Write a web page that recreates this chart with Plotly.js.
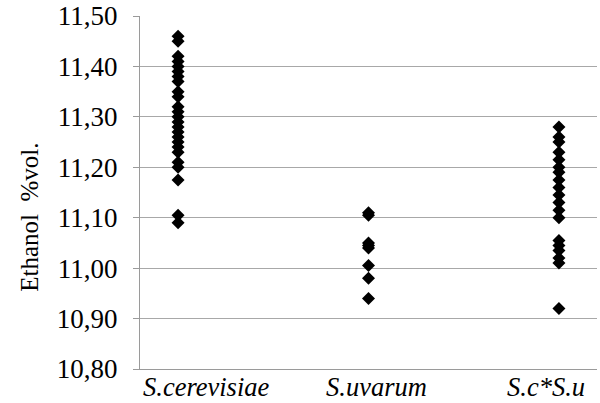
<!DOCTYPE html>
<html>
<head>
<meta charset="utf-8">
<script src="https://cdn.plot.ly/plotly-3.0.1.min.js"></script>
<style>html,body{margin:0;padding:0;background:#fff;}#chart{width:600px;height:403px;}</style>
</head>
<body>
<div id="chart"></div>
<script>
const categories = ["S.cerevisiae", "S.uvarum", "S.c*S.u"];
const cerevisiae = [11.46, 11.45, 11.42, 11.41, 11.40, 11.39, 11.38, 11.37, 11.35, 11.34, 11.32, 11.31, 11.30, 11.29, 11.28, 11.27, 11.26, 11.25, 11.24, 11.23, 11.21, 11.20, 11.175, 11.105, 11.09];
const uvarum = [11.11, 11.105, 11.05, 11.045, 11.04, 11.005, 10.98, 10.94];
const hybrid = [11.28, 11.26, 11.25, 11.23, 11.215, 11.20, 11.19, 11.175, 11.16, 11.145, 11.13, 11.115, 11.10, 11.055, 11.045, 11.035, 11.02, 11.01, 10.92];
const yTicks = [10.80, 10.90, 11.00, 11.10, 11.20, 11.30, 11.40, 11.50];
const labelOffsets = [0.15, 1.04, 1.93];

const series = [cerevisiae, uvarum, hybrid];
const xs = [], ys = [];
series.forEach((arr, i) => arr.forEach(v => { xs.push(i); ys.push(v); }));

const SERIF = 'Times New Roman, Liberation Serif, serif';

const data = [{
  type: 'scatter', mode: 'markers', x: xs, y: ys,
  marker: {symbol: 'diamond', size: 10, color: '#000000'},
  hoverinfo: 'y', showlegend: false
}];

const catLabels = categories.map((c, i) => ({
  text: c, xref: 'x', yref: 'paper', x: labelOffsets[i], y: 0,
  xanchor: 'center', yanchor: 'top', yshift: -2, showarrow: false, borderpad: 0,
  font: {size: 26.5, family: SERIF, style: 'italic', color: '#000'}
}));

const layout = {
  width: 600, height: 403,
  margin: {l: 140, r: 3, t: 16, b: 34},
  paper_bgcolor: '#ffffff', plot_bgcolor: '#ffffff',
  separators: ', ',
  font: {family: SERIF, color: '#000'},
  xaxis: {
    range: [-0.2, 2.2], showgrid: false, zeroline: false,
    showline: true, linecolor: '#9a9a9a', linewidth: 1,
    showticklabels: false, ticks: ''
  },
  yaxis: {
    range: [10.80, 11.50], tickmode: 'array', tickvals: yTicks,
    tickformat: '.2f', showgrid: true, gridcolor: '#a8a8a8', gridwidth: 1,
    zeroline: false, showline: true, linecolor: '#9a9a9a', linewidth: 1,
    ticks: 'outside', ticklen: 6, tickcolor: '#9a9a9a', ticklabelstandoff: 10,
    tickfont: {size: 27, family: SERIF, color: '#000'}
  },
  annotations: [{
    text: 'Ethanol  %vol.', textangle: -90, xref: 'paper', yref: 'paper',
    x: -0.241, y: 0.431, xanchor: 'center', yanchor: 'middle', showarrow: false,
    font: {size: 25, family: SERIF, color: '#000'}
  }].concat(catLabels)
};

Plotly.newPlot('chart', data, layout, {displayModeBar: false, staticPlot: true});
</script>
</body>
</html>
